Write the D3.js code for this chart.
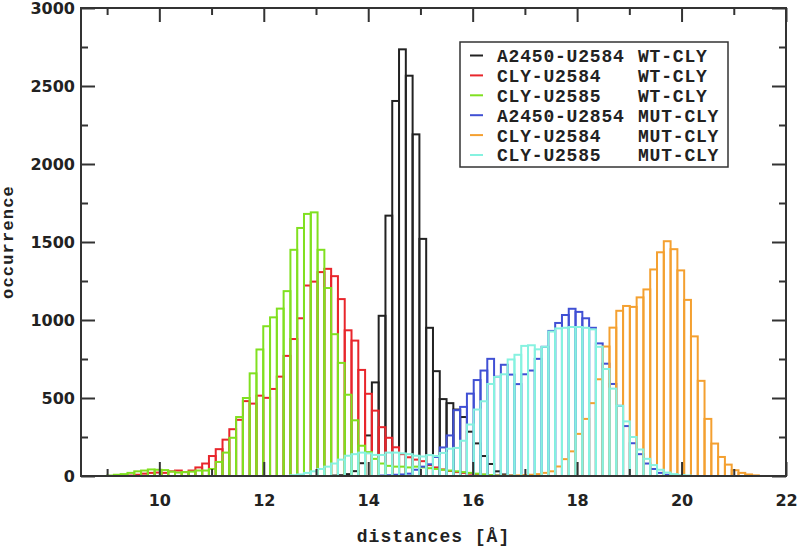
<!DOCTYPE html>
<html>
<head>
<meta charset="utf-8">
<script src="https://cdn.jsdelivr.net/npm/d3@7"></script>
<style>
  html, body { margin: 0; padding: 0; background: #fff; }
  svg { display: block; }
</style>
</head>
<body>
<svg id="chart" width="799" height="549"></svg>
<script>
// ---- DATA ----
// left edges of histogram bins (Å), bin width = spacing between edges
const bins = [
  9.00,9.13,9.26,9.39,9.52,9.65,9.78,9.91,10.04,10.17,
  10.30,10.43,10.56,10.69,10.82,10.95,11.08,11.21,11.34,11.47,
  11.60,11.73,11.86,11.99,12.12,12.25,12.38,12.51,12.64,12.77,
  12.90,13.03,13.16,13.29,13.42,13.55,13.68,13.81,13.94,14.07,
  14.20,14.33,14.46,14.59,14.72,14.85,14.98,15.11,15.24,15.37,
  15.50,15.63,15.76,15.89,16.02,16.15,16.28,16.41,16.54,16.67,
  16.80,16.93,17.06,17.19,17.32,17.45,17.58,17.71,17.84,17.97,
  18.10,18.23,18.36,18.49,18.62,18.75,18.88,19.01,19.14,19.27,
  19.40,19.53,19.66,19.79,19.92,20.05,20.18,20.31,20.44,20.57,
  20.70,20.83,20.96,21.09,21.22,21.35,21.48
];

const wtA2450 = [
  0,0,0,0,0,0,0,0,0,0,
  0,0,0,0,0,0,0,0,0,0,
  0,0,0,0,0,0,0,0,0,0,
  0,0,0,3,5,12,31,82,260,600,
  1027,1669,2404,2735,2566,2190,1520,950,672,493,
  467,426,378,284,209,128,77,30,10,3,
  0,0,0,0,0,0,0,0,0,0,
  0,0,0,0,0,0,0,0,0,0,
  0,0,0,0,0,0,0,0,0,0,
  0,0,0,0,0,0,0
];
const wtCly2584 = [
  0,0,0,3,8,15,20,22,20,30,
  35,25,35,55,80,128,172,233,300,360,
  480,464,515,501,558,637,770,878,1011,1221,
  1246,1307,1328,1281,1134,934,868,680,527,419,
  313,245,184,140,120,105,95,70,55,42,
  32,25,20,15,10,8,5,3,0,0,
  0,0,0,0,0,0,0,0,0,0,
  0,0,0,0,0,0,0,0,0,0,
  0,0,0,0,0,0,0,0,0,0,
  0,0,0,0,0,0,0
];
const wtCly2585 = [
  3,8,12,20,30,35,42,40,38,28,
  22,25,28,35,35,45,90,150,245,378,
  500,658,811,960,1017,1073,1185,1450,1590,1680,
  1690,1450,1205,909,725,521,357,194,153,110,
  80,65,60,60,55,60,55,50,45,40,
  35,30,25,20,15,10,6,3,0,0,
  0,0,0,0,0,0,0,0,0,0,
  0,0,0,0,0,0,0,0,0,0,
  0,0,0,0,0,0,0,0,0,0,
  0,0,0,0,0,0,0
];
const mutA2450 = [
  0,0,0,0,0,0,0,0,0,0,
  0,0,0,0,0,0,0,0,0,0,
  0,0,0,0,0,0,0,0,0,0,
  0,0,0,0,0,0,0,0,0,0,
  3,5,8,10,15,40,60,75,122,183,
  260,422,443,528,615,676,751,636,713,650,
  589,652,676,751,828,930,981,1032,1072,1052,
  1011,950,850,720,590,450,320,210,140,80,
  45,20,8,3,0,0,0,0,0,0,
  0,0,0,0,0,0,0
];
const mutCly2584 = [
  0,0,0,0,0,0,0,0,0,0,
  0,0,0,0,0,0,0,0,0,0,
  0,0,0,0,0,0,0,0,0,0,
  0,0,0,0,0,0,0,0,0,0,
  0,0,0,0,0,0,0,0,0,0,
  0,0,0,0,0,0,0,0,2,3,
  4,6,8,12,20,30,61,108,158,270,
  366,467,620,830,951,1059,1090,1084,1145,1196,
  1324,1434,1505,1454,1318,1129,895,610,366,208,
  122,73,37,20,10,4,0
];
const mutCly2585 = [
  0,0,0,0,0,0,0,0,0,0,
  0,0,0,0,0,0,0,0,0,0,
  0,0,0,0,0,0,0,5,10,20,
  30,45,60,80,105,130,140,150,145,135,
  135,150,150,145,140,130,125,134,128,148,
  175,180,226,330,426,479,590,635,652,747,
  777,834,838,812,828,926,946,950,955,955,
  950,940,828,686,560,450,350,250,170,110,
  70,40,22,12,6,3,0,0,0,0,
  0,0,0,0,0,0,0
];

const seriesNames = ["A2450-U2584","CLY-U2584","CLY-U2585","A2450-U2854","CLY-U2584","CLY-U2585"];
const seriesGroups = ["WT-CLY","WT-CLY","WT-CLY","MUT-CLY","MUT-CLY","MUT-CLY"];
const seriesValues = [wtA2450, wtCly2584, wtCly2585, mutA2450, mutCly2584, mutCly2585];
const seriesColors = ["#222222","#e8262c","#80e020","#4050d4","#f4a030","#86f2e0"];

const xMajorTicks = [10,12,14,16,18,20,22];
const xMinorTicks = [9,11,13,15,17,19,21];
const yMajorTicks = [0,500,1000,1500,2000,2500,3000];
const yMinorTicks = [250,750,1250,1750,2250,2750];
const xDomain = [8.5, 22];
const yDomain = [0, 3000];
const xTitle = "distances [Å]";
const yTitle = "occurrence";

// ---- LAYOUT ----
const L = 81, R = 786, T = 8, B = 476;
const svg = d3.select("#chart");
const x = d3.scaleLinear().domain(xDomain).range([L, R]);
const y = d3.scaleLinear().domain(yDomain).range([B, T]);
const binW = bins[1] - bins[0];

// ---- BARS ----
const plot = svg.append("g");
seriesValues.forEach((vals, si) => {
  const data = bins.map((b, i) => ({ x0: b, x1: (i + 1 < bins.length ? bins[i + 1] : b + binW), v: vals[i] }))
                   .filter(d => d.v > 0);
  plot.append("g")
    .selectAll("rect")
    .data(data)
    .join("rect")
    .attr("x", d => x(d.x0))
    .attr("width", d => x(d.x1) - x(d.x0))
    .attr("y", d => y(d.v))
    .attr("height", d => y(0) - y(d.v))
    .attr("fill", "none")
    .attr("stroke", seriesColors[si])
    .attr("stroke-width", 2);
});

// ---- AXES ----
const axisColor = "#333333";
const tickFont = "'DejaVu Sans', sans-serif";
function styleAxis(g, labels) {
  g.select(".domain").remove();
  g.selectAll(".tick line").attr("stroke", axisColor).attr("stroke-width", 2);
  g.selectAll(".tick text")
    .attr("fill", "#222")
    .style("font-family", tickFont)
    .style("font-weight", "bold")
    .style("font-size", "16px");
  if (!labels) g.selectAll(".tick text").remove();
}
// bottom
svg.append("g").attr("transform", `translate(0,${B})`)
  .call(d3.axisBottom(x).tickValues(xMajorTicks).tickSize(-14).tickPadding(19).tickFormat(d3.format("d")))
  .call(g => styleAxis(g, true));
svg.append("g").attr("transform", `translate(0,${B})`)
  .call(d3.axisBottom(x).tickValues(xMinorTicks).tickSize(-7))
  .call(g => styleAxis(g, false));
// top
svg.append("g").attr("transform", `translate(0,${T})`)
  .call(d3.axisTop(x).tickValues(xMajorTicks).tickSize(-14))
  .call(g => styleAxis(g, false));
svg.append("g").attr("transform", `translate(0,${T})`)
  .call(d3.axisTop(x).tickValues(xMinorTicks).tickSize(-7))
  .call(g => styleAxis(g, false));
// left
svg.append("g").attr("transform", `translate(${L},0)`)
  .call(d3.axisLeft(y).tickValues(yMajorTicks).tickSize(-14).tickPadding(6).tickFormat(d3.format("d")))
  .call(g => styleAxis(g, true));
svg.append("g").attr("transform", `translate(${L},0)`)
  .call(d3.axisLeft(y).tickValues(yMinorTicks).tickSize(-7))
  .call(g => styleAxis(g, false));
// right
svg.append("g").attr("transform", `translate(${R},0)`)
  .call(d3.axisRight(y).tickValues(yMajorTicks).tickSize(-14))
  .call(g => styleAxis(g, false));
svg.append("g").attr("transform", `translate(${R},0)`)
  .call(d3.axisRight(y).tickValues(yMinorTicks).tickSize(-7))
  .call(g => styleAxis(g, false));

// frame
svg.append("rect")
  .attr("x", L).attr("y", T).attr("width", R - L).attr("height", B - T)
  .attr("fill", "none").attr("stroke", axisColor).attr("stroke-width", 2);

// axis titles
const monoFont = "'Liberation Mono', 'Courier New', monospace";
svg.append("text")
  .attr("x", (L + R) / 2).attr("y", 542)
  .attr("text-anchor", "middle")
  .style("font-family", monoFont).style("font-weight", "bold")
  .style("font-size", "18px").style("letter-spacing", "1px")
  .attr("fill", "#222")
  .text(xTitle);
svg.append("text")
  .attr("transform", `translate(13,${(T + B) / 2}) rotate(-90)`)
  .attr("text-anchor", "middle")
  .style("font-family", monoFont).style("font-weight", "bold")
  .style("font-size", "17px").style("letter-spacing", "1.2px")
  .attr("fill", "#222")
  .text(yTitle);

// ---- LEGEND ----
const lg = svg.append("g");
lg.append("rect")
  .attr("x", 460).attr("y", 42).attr("width", 268).attr("height", 125)
  .attr("fill", "#fff").attr("stroke", axisColor).attr("stroke-width", 1.5);
seriesNames.forEach((name, i) => {
  const cy = 55.5 + i * 19.9;
  lg.append("line")
    .attr("x1", 470).attr("x2", 483).attr("y1", cy).attr("y2", cy)
    .attr("stroke", seriesColors[i]).attr("stroke-width", 2);
  lg.append("text")
    .attr("x", 497).attr("y", cy).attr("dy", "0.36em")
    .style("font-family", monoFont).style("font-weight", "bold")
    .style("font-size", "18px").style("letter-spacing", "0.8px")
    .attr("fill", "#222")
    .text(name);
  lg.append("text")
    .attr("x", 638).attr("y", cy).attr("dy", "0.36em")
    .style("font-family", monoFont).style("font-weight", "bold")
    .style("font-size", "18px").style("letter-spacing", "0.8px")
    .attr("fill", "#222")
    .text(seriesGroups[i]);
});
</script>
</body>
</html>
